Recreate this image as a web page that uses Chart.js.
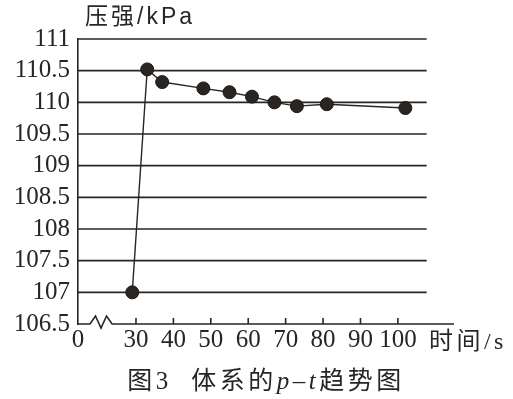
<!DOCTYPE html>
<html><head><meta charset="utf-8">
<script src="https://cdn.jsdelivr.net/npm/chart.js@4/dist/chart.umd.min.js"></script>
<style>html,body{margin:0;padding:0;background:#fff}</style>
</head><body>
<canvas id="c" width="513" height="399"></canvas>
<script>
// ---- data ----
const timeS = [29, 33, 37, 48, 55, 61, 67, 73, 81, 102];
const pressureKPa = [107, 110.52, 110.32, 110.22, 110.16, 110.09, 110.0, 109.94, 109.97, 109.91];
const xTickValues = [30, 40, 50, 60, 70, 80, 90, 100];
const xTickLabels = ['0', '30', '40', '50', '60', '70', '80', '90', '100'];
const yTickValues = [106.5, 107, 107.5, 108, 108.5, 109, 109.5, 110, 110.5, 111];
const yTitle = '压强/kPa';
const xTitle = '时间/s';
const captionParts = [['图3  ', false], ['体系的', false], ['p', true], ['–', false], ['t', true], ['趋势图', false]];

const X_MIN = 14.5, X_MAX = 115, GRID_END = 107.7, BREAK_FROM = 17.7, BREAK_TO = 23.6;

const INK = '#262626';
const SERIF = '"Liberation Serif", "DejaVu Serif", serif';
const CJK = '"Liberation Sans", "Noto Sans CJK SC", sans-serif';
const CJKSERIF = '"Liberation Serif", "Noto Sans CJK SC", serif';

Chart.defaults.font.family = SERIF;
Chart.defaults.font.size = 25;
Chart.defaults.font.weight = 'normal';

function spacedWidth(ctx, text, sp) {
  let w = 0;
  for (const ch of text) w += ctx.measureText(ch).width + sp;
  return w;
}
function spacedText(ctx, text, x, y, sp) {
  for (const ch of text) { ctx.fillText(ch, x, y); x += ctx.measureText(ch).width + sp; }
  return x;
}

const decor = {
  id: 'decor',
  beforeLayout(chart) { if ('letterSpacing' in chart.ctx) chart.ctx.letterSpacing = '0px'; },
  beforeDraw(chart) { if ('letterSpacing' in chart.ctx) chart.ctx.letterSpacing = '0px'; },
  beforeDatasetsDraw(chart) {
    const { ctx, scales: { x, y } } = chart;
    ctx.save();
    ctx.strokeStyle = INK; ctx.lineWidth = 1.6;
    const x0 = x.getPixelForValue(X_MIN), xg = x.getPixelForValue(GRID_END), xe = x.getPixelForValue(X_MAX);
    yTickValues.slice(1).forEach(v => {
      const py = y.getPixelForValue(v);
      ctx.beginPath(); ctx.moveTo(x0, py); ctx.lineTo(xg, py); ctx.stroke();
    });
    const ay = y.getPixelForValue(yTickValues[0]);
    const b1 = x.getPixelForValue(BREAK_FROM), b2 = x.getPixelForValue(BREAK_TO), w = b2 - b1;
    ctx.beginPath();
    ctx.moveTo(x0, ay); ctx.lineTo(b1, ay);
    ctx.lineTo(b1 + w * 0.25, ay - 8);
    ctx.lineTo(b1 + w * 0.5, ay + 4);
    ctx.lineTo(b1 + w * 0.75, ay - 8);
    ctx.lineTo(b2, ay);
    ctx.lineTo(xe, ay);
    ctx.stroke();
    xTickValues.forEach(v => {
      const px = x.getPixelForValue(v);
      ctx.beginPath(); ctx.moveTo(px, ay); ctx.lineTo(px, ay - 6); ctx.stroke();
    });
    ctx.restore();
  },
  afterDraw(chart) {
    const { ctx, chartArea, scales: { x } } = chart;
    ctx.save();
    ctx.fillStyle = INK;
    ctx.textBaseline = 'middle';
    ctx.textAlign = 'left';
    ctx.font = '23px ' + CJK;
    spacedText(ctx, yTitle, chartArea.left + 7, 18, 3);
    ctx.font = '24px ' + CJKSERIF;
    spacedText(ctx, xTitle, x.getPixelForValue(100) + 31, 343, 3.5);
    const fontOf = p => p[1] ? 'italic 25px ' + SERIF : '25px ' + CJKSERIF;
    let total = 0;
    captionParts.forEach(p => { ctx.font = fontOf(p); total += spacedWidth(ctx, p[0], 3.5); });
    let cx = 266 - total / 2;
    captionParts.forEach(p => { ctx.font = fontOf(p); cx = spacedText(ctx, p[0], cx, 382, 3.5); });
    ctx.restore();
  }
};

function build() {
  new Chart(document.getElementById('c'), {
    type: 'line',
    data: {
      datasets: [{
        data: timeS.map((t, i) => ({ x: t, y: pressureKPa[i] })),
        borderColor: INK, borderWidth: 1.4,
        pointRadius: 6.5, pointBackgroundColor: '#2b2522', pointBorderColor: '#1a1a1a', pointBorderWidth: 1,
        tension: 0, fill: false
      }]
    },
    options: {
      responsive: false, animation: false, devicePixelRatio: 1,
      layout: { padding: { top: 39, right: 59, left: 0, bottom: 0 } },
      plugins: { legend: { display: false }, tooltip: { enabled: false }, title: { display: false } },
      scales: {
        x: {
          type: 'linear', min: X_MIN, max: X_MAX,
          afterBuildTicks: s => { s.ticks = [X_MIN, ...xTickValues].map(v => ({ value: v })); },
          afterFit: s => { s.height = 75; },
          ticks: { autoSkip: false, maxRotation: 0, padding: 1, color: INK,
            font: { family: SERIF, size: 25, weight: 'normal', style: 'normal' },
            callback: (v, i) => xTickLabels[i] },
          grid: { display: false, tickLength: 0 },
          border: { display: false }
        },
        y: {
          min: 106.5, max: 111,
          afterBuildTicks: s => { s.ticks = yTickValues.map(v => ({ value: v })); },
          afterFit: s => { s.width = 78; },
          ticks: { autoSkip: false, padding: 8, color: INK,
            font: { family: SERIF, size: 25, weight: 'normal', style: 'normal' },
            callback: v => String(+v.toFixed(1)) },
          grid: { drawOnChartArea: false, drawTicks: false },
          border: { display: true, color: INK, width: 1.6 }
        }
      }
    },
    plugins: [decor]
  });
}

const fontLoads = [
  '25px "Liberation Serif"', 'italic 25px "Liberation Serif"',
  '23px "Liberation Sans"', '24px "Noto Sans CJK SC"'
].map(f => document.fonts.load(f, '0123456789.压强时间图').catch(() => null));
Promise.all(fontLoads).then(build, build);
</script>
</body></html>
